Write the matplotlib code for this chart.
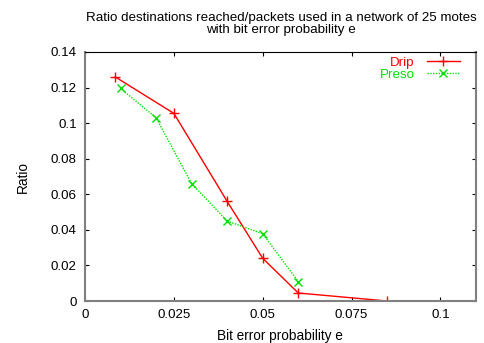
import matplotlib
matplotlib.use('Agg')
import matplotlib.pyplot as plt

plt.rcParams['font.family'] = ['Liberation Sans', 'DejaVu Sans']

# data
drip_x = [0.0085, 0.025, 0.040, 0.050, 0.060, 0.085]
drip_y = [0.126, 0.1055, 0.056, 0.024, 0.0045, 0.0]
preso_x = [0.010, 0.020, 0.030, 0.040, 0.050, 0.060]
preso_y = [0.1195, 0.103, 0.066, 0.045, 0.0378, 0.0109]
xticks = [0, 0.025, 0.05, 0.075, 0.1]
xtick_labels = ['0', '0.025', '0.05', '0.075', '0.1']
yticks = [0, 0.02, 0.04, 0.06, 0.08, 0.1, 0.12, 0.14]
ytick_labels = ['0', '0.02', '0.04', '0.06', '0.08', '0.1', '0.12', '0.14']

fig = plt.figure(figsize=(4.84, 3.43), dpi=100)
ax = fig.add_axes([0.1756, 0.1224, 0.8079, 0.726])

ax.plot(drip_x, drip_y, color='#ff0000', lw=1, marker='+', ms=7, mew=1, label='Drip')
ax.plot(preso_x, preso_y, color='#00e000', lw=1, ls=(0, (1, 1)), marker='x', ms=6, mew=1, label='Preso')

ax.set_xlim(0, 0.11)
ax.set_ylim(0, 0.14)
ax.set_xticks(xticks)
ax.set_xticklabels(xtick_labels)
ax.set_yticks(yticks)
ax.set_yticklabels(ytick_labels)
ax.tick_params(direction='in', length=3, width=0.8, labelsize=9.6, top=True, right=True, pad=6)

for s in ['left', 'bottom', 'right']:
    ax.spines[s].set_color('#808080')
    ax.spines[s].set_linewidth(1.5)
ax.spines['top'].set_color('black')
ax.spines['top'].set_linewidth(0.8)

leg = ax.legend(loc='upper right', bbox_to_anchor=(0.959, 0.983), frameon=False, fontsize=9.6,
                markerfirst=False, handlelength=2.5, borderaxespad=0, borderpad=0,
                labelspacing=0.0, handletextpad=0.9)
for t, c in zip(leg.get_texts(), ['#ff0000', '#00e000']):
    t.set_color(c)

fig.text(0.5806, 0.93, 'Ratio destinations reached/packets used in a network of 25 motes\nwith bit error probability e',
         ha='center', va='center', fontsize=9.6, linespacing=1.0)
fig.text(0.579, 0.02, 'Bit error probability e', ha='center', va='center', fontsize=9.8)
fig.text(0.048, 0.485, 'Ratio', ha='center', va='center', rotation=90, fontsize=9.8)

fig.savefig('out.png', dpi=100)
